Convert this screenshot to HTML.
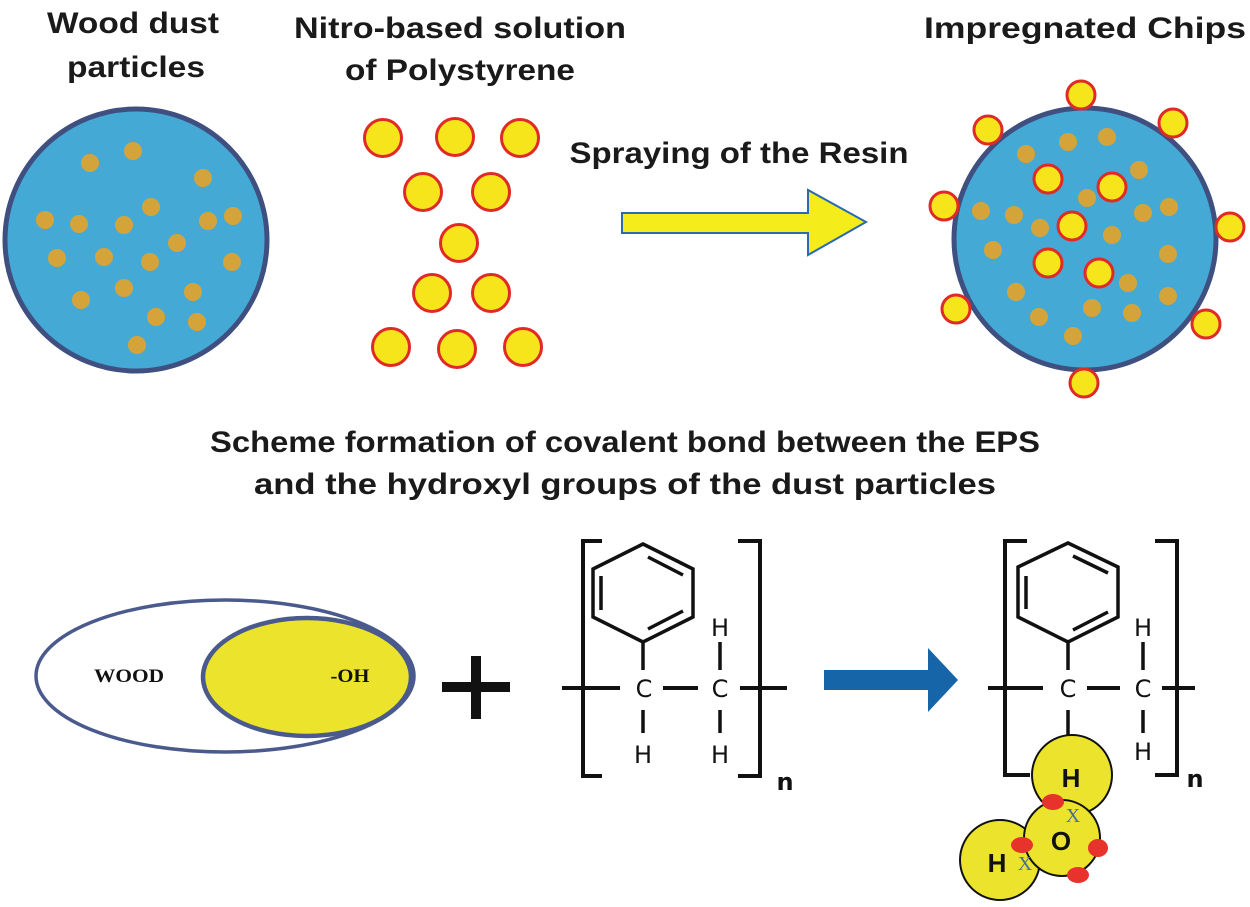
<!DOCTYPE html>
<html><head><meta charset="utf-8"><style>html,body{margin:0;padding:0;background:#fff}svg{display:block}</style></head>
<body>
<svg width="1250" height="907" viewBox="0 0 1250 907" xmlns="http://www.w3.org/2000/svg">
<g font-family="Liberation Sans, sans-serif" font-weight="bold" font-size="30" fill="#1a1a1a" text-anchor="middle">
<text x="133" y="33" textLength="172" lengthAdjust="spacingAndGlyphs">Wood dust</text>
<text x="136" y="77" textLength="138" lengthAdjust="spacingAndGlyphs">particles</text>
<text x="460" y="38" textLength="332" lengthAdjust="spacingAndGlyphs">Nitro-based solution</text>
<text x="460" y="80" textLength="230" lengthAdjust="spacingAndGlyphs">of Polystyrene</text>
<text x="1085" y="38" textLength="322" lengthAdjust="spacingAndGlyphs">Impregnated Chips</text>
<text x="739" y="163" textLength="339" lengthAdjust="spacingAndGlyphs">Spraying of the Resin</text>
<text x="625" y="452" textLength="830" lengthAdjust="spacingAndGlyphs">Scheme formation of covalent bond between the EPS</text>
<text x="625" y="494" textLength="742" lengthAdjust="spacingAndGlyphs">and the hydroxyl groups of the dust particles</text>
</g>
<circle cx="136" cy="240" r="131" fill="#45a9d6" stroke="#3f5080" stroke-width="5"/>
<g fill="#d4a43a">
<circle cx="90" cy="163" r="9"/><circle cx="133" cy="151" r="9"/><circle cx="203" cy="178" r="9"/><circle cx="151" cy="207" r="9"/><circle cx="45" cy="220" r="9"/><circle cx="79" cy="224" r="9"/><circle cx="124" cy="225" r="9"/><circle cx="208" cy="221" r="9"/><circle cx="233" cy="216" r="9"/><circle cx="177" cy="243" r="9"/><circle cx="57" cy="258" r="9"/><circle cx="104" cy="257" r="9"/><circle cx="150" cy="262" r="9"/><circle cx="232" cy="262" r="9"/><circle cx="124" cy="288" r="9"/><circle cx="193" cy="292" r="9"/><circle cx="81" cy="300" r="9"/><circle cx="156" cy="317" r="9"/><circle cx="197" cy="322" r="9"/><circle cx="137" cy="345" r="9"/>
</g>
<g fill="#f7e51c" stroke="#e02a26" stroke-width="3">
<circle cx="383" cy="138" r="18.5"/><circle cx="455" cy="137" r="18.5"/><circle cx="520" cy="138" r="18.5"/><circle cx="423" cy="192" r="18.5"/><circle cx="491" cy="192" r="18.5"/><circle cx="459" cy="243" r="18.5"/><circle cx="432" cy="293" r="18.5"/><circle cx="491" cy="293" r="18.5"/><circle cx="391" cy="347" r="18.5"/><circle cx="457" cy="349" r="18.5"/><circle cx="523" cy="347" r="18.5"/>
</g>
<polygon points="622,213 808,213 808,190 866,222 808,255 808,233 622,233" fill="#f5ec1c" stroke="#2a6ab0" stroke-width="2"/>
<circle cx="1085" cy="239" r="131" fill="#45a9d6" stroke="#3f5080" stroke-width="5"/>
<g fill="#d4a43a">
<circle cx="1068" cy="142" r="9"/><circle cx="1107" cy="137" r="9"/><circle cx="1026" cy="154" r="9"/><circle cx="1139" cy="170" r="9"/><circle cx="1087" cy="198" r="9"/><circle cx="981" cy="211" r="9"/><circle cx="1014" cy="215" r="9"/><circle cx="1040" cy="228" r="9"/><circle cx="1143" cy="213" r="9"/><circle cx="1169" cy="207" r="9"/><circle cx="1112" cy="235" r="9"/><circle cx="993" cy="250" r="9"/><circle cx="1168" cy="254" r="9"/><circle cx="1128" cy="283" r="9"/><circle cx="1016" cy="292" r="9"/><circle cx="1168" cy="296" r="9"/><circle cx="1092" cy="308" r="9"/><circle cx="1132" cy="313" r="9"/><circle cx="1039" cy="317" r="9"/><circle cx="1073" cy="336" r="9"/>
</g>
<g fill="#f7e51c" stroke="#e02a26" stroke-width="3">
<circle cx="1081" cy="95" r="14"/><circle cx="988" cy="130" r="14"/><circle cx="1173" cy="123" r="14"/><circle cx="944" cy="206" r="14"/><circle cx="1230" cy="227" r="14"/><circle cx="956" cy="309" r="14"/><circle cx="1206" cy="324" r="14"/><circle cx="1084" cy="383" r="14"/>
<circle cx="1048" cy="179" r="14"/><circle cx="1112" cy="187" r="14"/><circle cx="1072" cy="226" r="14"/><circle cx="1048" cy="263" r="14"/><circle cx="1099" cy="273" r="14"/>
</g>
<ellipse cx="225" cy="676" rx="189" ry="76" fill="#fff" stroke="#4a5a8c" stroke-width="3.5"/>
<ellipse cx="307" cy="677" rx="104" ry="59" fill="#ece42c" stroke="#4a5a8c" stroke-width="4.5"/>
<g font-family="Liberation Serif, serif" font-weight="bold" font-size="19" fill="#111" text-anchor="middle">
<text x="129" y="682" textLength="70" lengthAdjust="spacingAndGlyphs">WOOD</text>
<text x="350" y="682" textLength="39" lengthAdjust="spacingAndGlyphs">-OH</text>
</g>
<rect x="442" y="682" width="68" height="10" fill="#111"/>
<rect x="471" y="656" width="10" height="63" fill="#111"/>
<g stroke="#111" stroke-width="4" fill="none">
<path d="M602,541 H583 V776 H602"/>
<path d="M738,541 H760 V776 H738"/>
<polygon points="643,544 693,569 693,617 643,642 593,617 593,569" stroke-width="3.5"/>
<line x1="601" y1="576" x2="601" y2="610" stroke-width="3.5"/>
<line x1="648" y1="557" x2="683" y2="575" stroke-width="3.5"/>
<line x1="648" y1="629" x2="683" y2="611" stroke-width="3.5"/>
<line x1="643" y1="642" x2="643" y2="670" stroke-width="3.5"/>
<line x1="562" y1="688" x2="620" y2="688"/>
<line x1="663" y1="688" x2="698" y2="688"/>
<line x1="740" y1="688" x2="787" y2="688"/>
<line x1="643" y1="710" x2="643" y2="733" stroke-width="3.5"/>
<line x1="720" y1="642" x2="720" y2="670" stroke-width="3.5"/>
<line x1="720" y1="710" x2="720" y2="733" stroke-width="3.5"/>
</g>
<g font-family="DejaVu Sans, sans-serif" font-size="24" fill="#111" text-anchor="middle">
<text x="644" y="697">C</text><text x="720" y="697">C</text>
<text x="643" y="763">H</text><text x="720" y="636">H</text><text x="720" y="763">H</text>
<text x="785" y="790" font-weight="bold">n</text>
</g>
<polygon points="824,670 928,670 928,648 958,680 928,712 928,690 824,690" fill="#1565a8"/>
<g stroke="#111" stroke-width="4" fill="none">
<path d="M1027,541 H1005 V775 H1030"/>
<path d="M1155,541 H1177 V775 H1155"/>
<polygon points="1068,543 1118,567 1118,617 1068,642 1018,617 1018,567" stroke-width="3.5"/>
<line x1="1026" y1="576" x2="1026" y2="609" stroke-width="3.5"/>
<line x1="1073" y1="556" x2="1108" y2="573" stroke-width="3.5"/>
<line x1="1073" y1="630" x2="1108" y2="612" stroke-width="3.5"/>
<line x1="1068" y1="642" x2="1068" y2="670" stroke-width="3.5"/>
<line x1="988" y1="688" x2="1043" y2="688"/>
<line x1="1087" y1="688" x2="1120" y2="688"/>
<line x1="1162" y1="688" x2="1195" y2="688"/>
<line x1="1068" y1="710" x2="1068" y2="737" stroke-width="3.5"/>
<line x1="1143" y1="642" x2="1143" y2="670" stroke-width="3.5"/>
<line x1="1143" y1="710" x2="1143" y2="733" stroke-width="3.5"/>
</g>
<g font-family="DejaVu Sans, sans-serif" font-size="24" fill="#111" text-anchor="middle">
<text x="1068" y="697">C</text><text x="1143" y="697">C</text>
<text x="1143" y="636">H</text><text x="1143" y="760">H</text>
<text x="1195" y="787" font-weight="bold">n</text>
</g>
<g fill="#ece42c" stroke="#111" stroke-width="2">
<circle cx="1072" cy="775" r="40"/>
<circle cx="1000" cy="860" r="40"/>
<circle cx="1062" cy="838" r="38"/>
</g>
<g font-family="Liberation Sans, sans-serif" font-weight="bold" font-size="26" fill="#111" text-anchor="middle">
<text x="1071" y="787">H</text><text x="1061" y="850">O</text><text x="997" y="872">H</text>
</g>
<g fill="#e8322c">
<ellipse cx="1053" cy="802" rx="11" ry="8"/><ellipse cx="1022" cy="845" rx="11" ry="8"/><ellipse cx="1098" cy="848" rx="10" ry="9"/><ellipse cx="1078" cy="875" rx="11" ry="8"/>
</g>
<g font-family="Liberation Serif, serif" font-size="20" fill="#4a6aa8" text-anchor="middle">
<text x="1073" y="822">X</text><text x="1025" y="870">X</text>
</g>
</svg>
</body></html>
